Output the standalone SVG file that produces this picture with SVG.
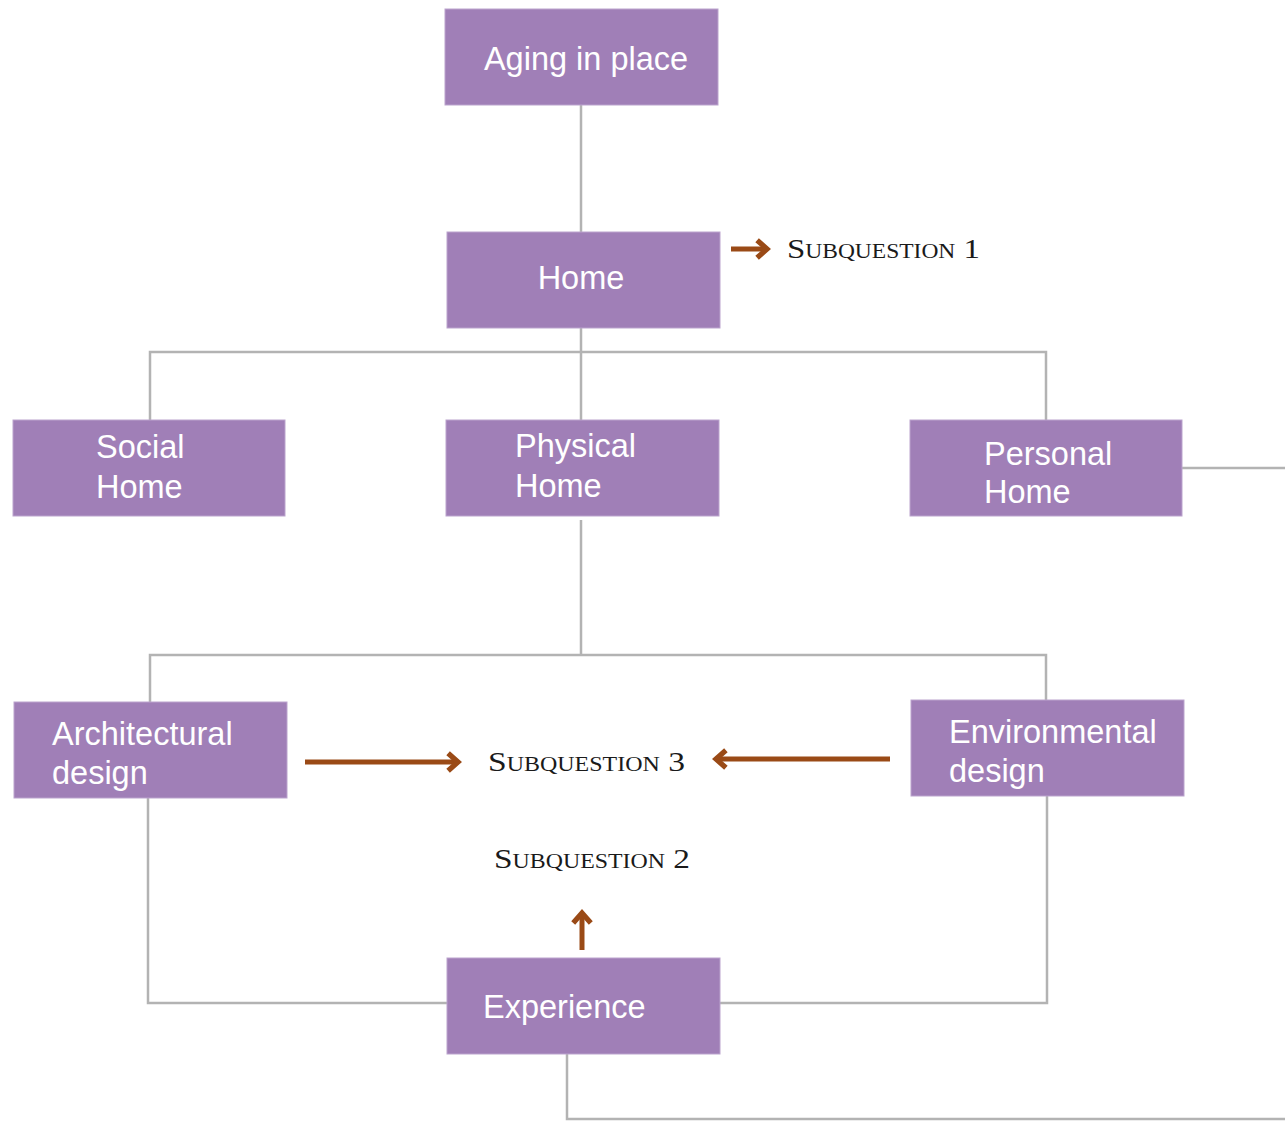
<svg xmlns="http://www.w3.org/2000/svg" width="1285" height="1121" viewBox="0 0 1285 1121">
<defs>
<style>
.box{fill:#a07fb7;stroke:#bba4cd;stroke-width:1}
.lbl{font-family:"Liberation Sans",Arial,sans-serif;font-size:32.5px;fill:#ffffff}
.conn{fill:none;stroke:#b3b3b3;stroke-width:2.5}
.arr{fill:none;stroke:#9a4a16;stroke-width:5}
.sq{font-family:"Liberation Serif","Times New Roman",serif;font-size:28px;font-variant:small-caps;fill:#1a1a1a}
</style>
<marker id="ah" viewBox="0 0 10 10" refX="7" refY="5" markerWidth="4.4" markerHeight="4.4" orient="auto" markerUnits="strokeWidth">
<path d="M2.5,1 L7,5 L2.5,9" fill="none" stroke="#9a4a16" stroke-width="2.4"/>
</marker>
</defs>
<rect width="1285" height="1121" fill="#ffffff"/>
<g id="connectors">
<path class="conn" d="M581,105 V232"/>
<path class="conn" d="M581,328 V420"/>
<path class="conn" d="M150,420 V352 H1046 V420"/>
<path class="conn" d="M1182,468 H1285"/>
<path class="conn" d="M581,520 V655"/>
<path class="conn" d="M150,702 V655 H1046 V700"/>
<path class="conn" d="M148,798 V1003 H447"/>
<path class="conn" d="M1047,796 V1003 H720"/>
<path class="conn" d="M567,1054 V1119 H1285"/>
<path class="arr" d="M731,249 H767" marker-end="url(#ah)"/>
<path class="arr" d="M305,762 H458" marker-end="url(#ah)"/>
<path class="arr" d="M890,759 H716" marker-end="url(#ah)"/>
<path class="arr" d="M582,950 V913" marker-end="url(#ah)"/>
</g>
<g id="aging">
<rect class="box" x="445" y="9" width="273" height="96"/>
<text class="lbl" x="586" y="70" text-anchor="middle">Aging in place</text>
</g>
<g id="home">
<rect class="box" x="447" y="232" width="273" height="96"/>
<text class="lbl" x="581" y="289" text-anchor="middle">Home</text>
</g>
<g id="social">
<rect class="box" x="13" y="420" width="272" height="96"/>
<text class="lbl" x="96" y="458">Social</text>
<text class="lbl" x="96" y="498">Home</text>
</g>
<g id="physical">
<rect class="box" x="446" y="420" width="273" height="96"/>
<text class="lbl" x="515" y="457">Physical</text>
<text class="lbl" x="515" y="497">Home</text>
</g>
<g id="personal">
<rect class="box" x="910" y="420" width="272" height="96"/>
<text class="lbl" x="984" y="465">Personal</text>
<text class="lbl" x="984" y="503">Home</text>
</g>
<g id="architectural">
<rect class="box" x="14" y="702" width="273" height="96"/>
<text class="lbl" x="52" y="745">Architectural</text>
<text class="lbl" x="52" y="784">design</text>
</g>
<g id="environmental">
<rect class="box" x="911" y="700" width="273" height="96"/>
<text class="lbl" x="949" y="743">Environmental</text>
<text class="lbl" x="949" y="782">design</text>
</g>
<g id="experience">
<rect class="box" x="447" y="958" width="273" height="96"/>
<text class="lbl" x="483" y="1018">Experience</text>
</g>
<g id="subquestions">
<text class="sq" x="787" y="258" textLength="193" lengthAdjust="spacingAndGlyphs">Subquestion 1</text>
<text class="sq" x="488" y="771" textLength="197" lengthAdjust="spacingAndGlyphs">Subquestion 3</text>
<text class="sq" x="494" y="868" textLength="196" lengthAdjust="spacingAndGlyphs">Subquestion 2</text>
</g>
</svg>
